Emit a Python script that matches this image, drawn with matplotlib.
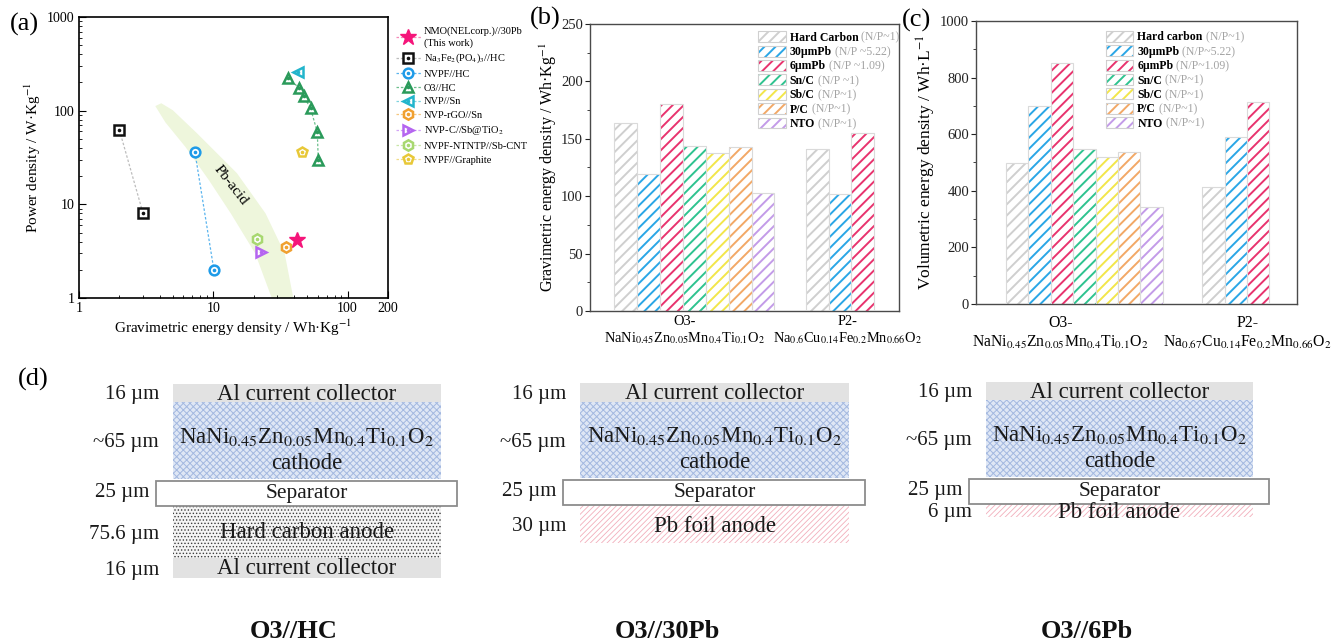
import matplotlib
matplotlib.use("Agg")
import numpy as np
import matplotlib.pyplot as plt
from matplotlib.patches import Patch, Rectangle
from matplotlib.legend_handler import HandlerTuple
from matplotlib.ticker import FixedLocator, LogLocator, NullFormatter, MultipleLocator

plt.rcParams['font.family'] = ['Liberation Serif', 'DejaVu Serif']
plt.rcParams['mathtext.fontset'] = 'stix'
plt.rcParams['hatch.linewidth'] = 1.4

W, H = 1336, 643


def box(l, t, r, b):
    # pixel box -> figure fraction
    return [l / W, 1 - b / H, (r - l) / W, (b - t) / H]


# ---------------- (a) Ragone data (Wh/kg, W/kg) ----------------
rag_names = ['NMO(NELcorp.)//30Pb\n(This work)', r'Na$_3$Fe$_2$(PO$_4$)$_3$//HC', 'NVPF//HC',
             'O3//HC', 'NVP//Sn', 'NVP-rGO//Sn', r'NVP-C//Sb@TiO$_2$', 'NVPF-NTNTP//Sb-CNT',
             'NVPF//Graphite']
rag_energy = [[42.3], [2.0, 3.0], [7.3, 10.1], [36, 43.5, 47, 53, 59.5, 60.5], [42.7],
              [35], [22.8], [21.2], [45.5]]
rag_power = [[4.2], [62, 8.0], [36, 2.0], [221, 176, 143, 106, 59, 29.7], [256],
             [3.5], [3.07], [4.23], [36]]
rag_markers = ['*', 's', 'o', '^', '<', 'h', '>', 'h', 'p']
rag_colors = ['#f5157a', '#111111', '#1e9be8', '#2a9a5a', '#22b5cc', '#f0a030',
              '#b565f0', '#a8d870', '#e8c838']
rag_lines = ['#f58ab8', '#bdbdbd', '#5ab4ee', '#6cbf8c', '#7fd3de', '#f5c77f',
             '#d3a5f6', '#c8e6a6', '#f0dc88']
rag_ms = [12, 6.5, 7, 7.5, 7.5, 7.5, 7.5, 7.5, 7.5]

# Pb-acid region outline
pb_x = [3.7, 4.4, 6.2, 9.3, 13.5, 20.5, 28.0, 40, 34, 24.5, 15, 7.6, 5.0, 4.1]
pb_y = [112, 75, 41, 18, 8, 3, 0.9, 0.9, 3, 8, 21.5, 57, 101, 120]

# ---------------- (b), (c) bar data ----------------
names_b = ['Hard Carbon', '30µmPb', '6µmPb', 'Sn/C', 'Sb/C', 'P/C', 'NTO']
notes_b = ['(N/P~1)', '(N/P ~5.22)', '(N/P ~1.09)', '(N/P ~1)', '(N/P~1)', '(N/P~1)', '(N/P~1)']
names_c = ['Hard carbon', '30µmPb', '6µmPb', 'Sn/C', 'Sb/C', 'P/C', 'NTO']
notes_c = ['(N/P~1)', '(N/P~5.22)', '(N/P~1.09)', '(N/P~1)', '(N/P~1)', '(N/P~1)', '(N/P~1)']
bar_colors = ['#cfcfcf', '#2aa6e6', '#e8336e', '#2ec38f', '#f2e64a', '#f2a866', '#c39be8']

grav_o3 = [163.5, 119.5, 180, 143.5, 138, 143, 102.5]
grav_p2 = [141.5, 101.5, 155]
vol_o3 = [497, 700, 850, 546, 520, 538, 344]
vol_p2 = [415, 591, 715]

groups_b = ['O3-\nNaNi$_{0.45}$Zn$_{0.05}$Mn$_{0.4}$Ti$_{0.1}$O$_2$',
            'P2-\nNa$_{0.6}$Cu$_{0.14}$Fe$_{0.2}$Mn$_{0.66}$O$_2$']
groups_c = ['O3-\nNaNi$_{0.45}$Zn$_{0.05}$Mn$_{0.4}$Ti$_{0.1}$O$_2$',
            'P2-\nNa$_{0.67}$Cu$_{0.14}$Fe$_{0.2}$Mn$_{0.66}$O$_2$']

# ---------------- (d) cell schematics ----------------
cell_titles = ['O3//HC', 'O3//30Pb', 'O3//6Pb']
cell_layers = [['al', 'cath', 'sep', 'hc', 'al'],
               ['al', 'cath', 'sep', 'pb'],
               ['al', 'cath', 'sep', 'pb']]
cell_thick = [['16 µm', '~65 µm', '25 µm', '75.6 µm', '16 µm'],
              ['16 µm', '~65 µm', '25 µm', '30 µm'],
              ['16 µm', '~65 µm', '25 µm', '6 µm']]
# layout (pixels)
cell_x = [(173, 441), (580, 849), (986, 1253)]
cell_edges = [[384, 402, 479, 506, 558, 578],
              [383, 402, 478, 505, 543],
              [382, 400, 477, 504, 517]]
cell_title_x = [294, 667, 1087]
formula = 'NaNi$_{0.45}$Zn$_{0.05}$Mn$_{0.4}$Ti$_{0.1}$O$_2$'

fig = plt.figure(figsize=(13.36, 6.43), dpi=100)

# ======================= (a) =======================
axA = fig.add_axes(box(79, 17, 388, 298))
axA.set_xscale('log')
axA.set_yscale('log')
axA.fill(pb_x, pb_y, color='#eef6dc', lw=0, zorder=0)
axA.text(13.5, 16, 'Pb-acid', rotation=-52, ha='center', va='center', fontsize=11)

handles = []
for e, p, m, c, lc, ms in zip(rag_energy, rag_power, rag_markers, rag_colors, rag_lines, rag_ms):
    if m == '*':
        ln, = axA.plot(e, p, ls=(0, (2, 1.5)), lw=0.9, color=lc, marker=m, ms=ms,
                       mfc=c, mec=c, zorder=5)
        handles.append(ln)
    else:
        ln, = axA.plot(e, p, ls=(0, (2, 1.5)), lw=0.9, color=lc, marker=m, ms=ms,
                       mfc='white', mec=c, mew=1.8, zorder=3)
        dot, = axA.plot(e, p, ls='none', marker='o', ms=1.6, color=c, zorder=4)
        handles.append((ln, dot))

axA.set_xlim(1, 200)
axA.set_ylim(1, 1000)
axA.xaxis.set_major_locator(FixedLocator([1, 10, 100, 200]))
axA.set_xticklabels(['1', '10', '100', '200'])
axA.yaxis.set_major_locator(FixedLocator([1, 10, 100, 1000]))
axA.set_yticklabels(['1', '10', '100', '1000'])
for axis in (axA.xaxis, axA.yaxis):
    axis.set_minor_locator(LogLocator(base=10, subs=np.arange(2, 10)))
    axis.set_minor_formatter(NullFormatter())
axA.tick_params(which='both', direction='in', top=False, right=False, labelsize=10, pad=3)
axA.tick_params(which='major', length=5)
axA.tick_params(which='minor', length=2.5)
for s in axA.spines.values():
    s.set_linewidth(1.2)
axA.set_xlabel(r'Gravimetric energy density / Wh·Kg$^{-1}$', fontsize=11, labelpad=2)
axA.set_ylabel(r'Power density / W·Kg$^{-1}$', fontsize=11, labelpad=3)

axA.legend(handles, rag_names, handler_map={tuple: HandlerTuple(ndivide=1)},
           loc='upper left', bbox_to_anchor=(1.025, 0.965), frameon=False, fontsize=7.5,
           handlelength=2.4, labelspacing=0.42, handletextpad=0.3, borderpad=0,
           borderaxespad=0, numpoints=1)


# ======================= (b), (c) =======================
def bar_panel(ax, o3, p2, w, names, notes, groups, label_x, ymax, major, minor, ylabel,
              anchor, fs_tick, fs_lab, xpad):
    for i, v in enumerate(o3):
        x = 1 + (i - 3) * w
        ax.bar(x, v, w, color='white', edgecolor=bar_colors[i], hatch='///', lw=0, zorder=2)
        ax.bar(x, v, w, fill=False, edgecolor='#dadada', lw=0.8, zorder=3)
    for i, v in enumerate(p2):
        x = 2 + (i - 1) * w
        ax.bar(x, v, w, color='white', edgecolor=bar_colors[i], hatch='///', lw=0, zorder=2)
        ax.bar(x, v, w, fill=False, edgecolor='#dadada', lw=0.8, zorder=3)
    ax.set_xlim(0.283, 2.405)
    ax.set_ylim(0, ymax)
    ax.yaxis.set_major_locator(MultipleLocator(major))
    ax.yaxis.set_minor_locator(MultipleLocator(minor))
    ax.set_xticks(label_x)
    ax.set_xticklabels(groups, fontsize=fs_tick)
    ax.tick_params(axis='x', length=0, pad=xpad)
    ax.tick_params(axis='y', which='both', direction='out', labelsize=10.5, pad=1.5,
                   colors='#222222')
    ax.tick_params(axis='y', which='major', length=3.5)
    ax.tick_params(axis='y', which='minor', length=2)
    for s in ax.spines.values():
        s.set_color('#4a4a4a')
        s.set_linewidth(1.0)
    ax.set_ylabel(ylabel, fontsize=fs_lab, labelpad=1.5)

    hs = [(Patch(facecolor='white', edgecolor=c, hatch='///', lw=0),
           Patch(fill=False, edgecolor='#d0d0d0', lw=0.8)) for c in bar_colors]
    leg = ax.legend(hs, names, handler_map={tuple: HandlerTuple(ndivide=1)},
                    loc='upper left', bbox_to_anchor=anchor, frameon=False,
                    prop={'weight': 'bold', 'size': 8.5}, handlelength=2.3,
                    handleheight=1.05, labelspacing=0.16, handletextpad=0.35,
                    borderpad=0, borderaxespad=0)
    leg.set_zorder(6)
    for t, note in zip(leg.get_texts(), notes):
        ax.annotate(' ' + note, xy=(1, 0), xycoords=t, ha='left', va='bottom',
                    fontsize=8.5, color='#a3a3a3', zorder=10, annotation_clip=False)


axB = fig.add_axes(box(590, 24, 899, 311))
bar_panel(axB, grav_o3, grav_p2, 0.157, names_b, notes_b, groups_b, [0.93, 2.05],
          250, 50, 25, r'Gravimetric energy density / Wh·Kg$^{-1}$', (0.545, 0.975),
          10.4, 11.5, 3)

axC = fig.add_axes(box(976, 21, 1297, 304))
bar_panel(axC, vol_o3, vol_p2, 0.148, names_c, notes_c, groups_c, [0.84, 2.08],
          1000, 200, 100, r'Volumetric energy density / Wh·L$^{-1}$', (0.405, 0.965),
          11.3, 12.5, 8)

# ======================= (d) =======================
axD = fig.add_axes([0, 0, 1, 1], zorder=-1)
axD.set_xlim(0, W)
axD.set_ylim(H, 0)
axD.axis('off')

layer_style = {
    'al': dict(facecolor='#e2e2e2', edgecolor='none', hatch=None, hlw=1.0),
    'cath': dict(facecolor='#dfe7f5', edgecolor='#a3b8e0', hatch='xxxxx', hlw=0.7),
    'hc': dict(facecolor='#f4f4f4', edgecolor='#3c3c3c', hatch='.....', hlw=0.6),
    'pb': dict(facecolor='white', edgecolor='#f2aebb', hatch='//////', hlw=0.6),
}
layer_text = {'al': 'Al current collector', 'hc': 'Hard carbon anode', 'pb': 'Pb foil anode',
              'sep': 'Separator'}
txt_col = '#1a1a1a'

for title, layers, thick, (x0, x1), edges, tx in zip(cell_titles, cell_layers, cell_thick,
                                                     cell_x, cell_edges, cell_title_x):
    xc = (x0 + x1) / 2
    for k, (kind, th) in enumerate(zip(layers, thick)):
        top, bot = edges[k], edges[k + 1]
        yc = (top + bot) / 2
        if kind == 'sep':
            axD.add_patch(Rectangle((x0 - 17, top + 1.5), (x1 - x0) + 33, bot - top - 2,
                                    facecolor='white', edgecolor='#8c8c8c', lw=1.3, zorder=4))
            axD.text(x0 - 24, yc, th, ha='right', va='center', fontsize=15, color=txt_col)
        else:
            st = layer_style[kind]
            with plt.rc_context({'hatch.linewidth': st['hlw']}):
                axD.add_patch(Rectangle((x0, top), x1 - x0, bot - top,
                                        facecolor=st['facecolor'], edgecolor=st['edgecolor'],
                                        hatch=st['hatch'], lw=0, zorder=2))
            axD.text(x0 - 14, yc + 2, th, ha='right', va='center', fontsize=15, color=txt_col)
        if kind == 'cath':
            axD.text(xc, yc - 4, formula, ha='center', va='center', fontsize=16.5,
                     color=txt_col, zorder=5)
            axD.text(xc, yc + 23, 'cathode', ha='center', va='center', fontsize=16.5,
                     color=txt_col, zorder=5)
        else:
            fs = 15.5 if kind == 'sep' else 16.5
            axD.text(xc, yc + (1 if kind != 'pb' else 2), layer_text[kind], ha='center',
                     va='center', fontsize=fs, color=txt_col, zorder=5)
    axD.text(tx, 631, title, ha='center', va='center', fontsize=19, fontweight='bold',
             color='#111111')

# panel labels
fig.text(10 / W, 1 - 24 / H, '(a)', fontsize=19, va='center', ha='left')
fig.text(530 / W, 1 - 18 / H, '(b)', fontsize=19, va='center', ha='left')
fig.text(902 / W, 1 - 20 / H, '(c)', fontsize=19, va='center', ha='left')
fig.text(18 / W, 1 - 379 / H, '(d)', fontsize=19, va='center', ha='left')

fig.canvas.draw()
fig.savefig('out.png', dpi=100)
